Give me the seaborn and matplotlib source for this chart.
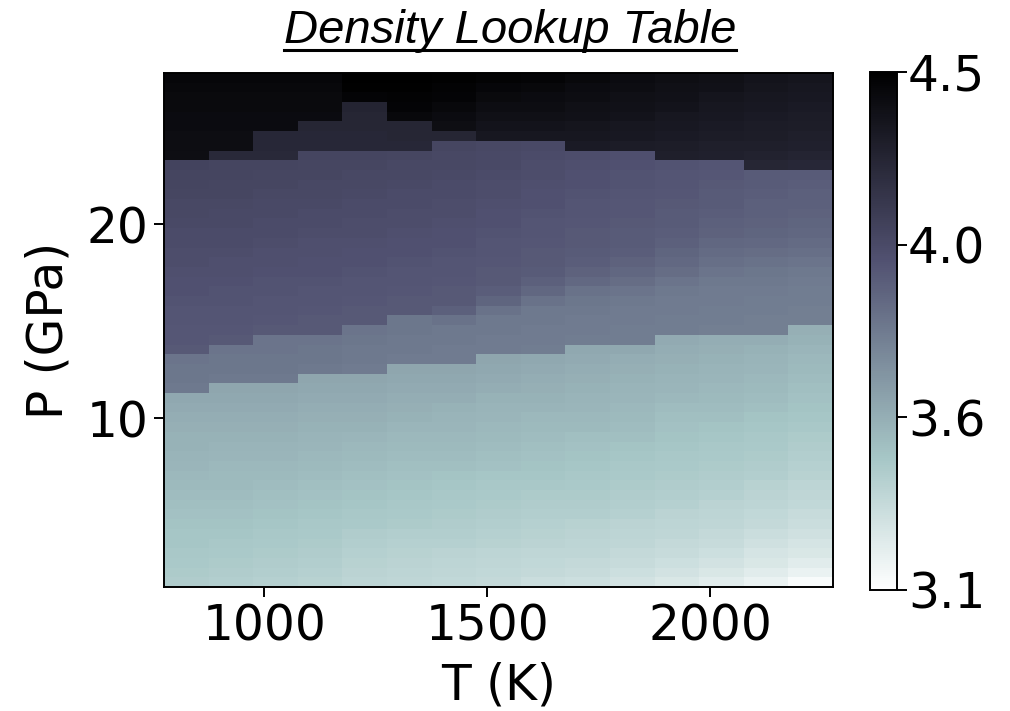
import numpy as np
import pandas as pd
import matplotlib
matplotlib.use("Agg")
import matplotlib.pyplot as plt
import seaborn as sns
from matplotlib.lines import Line2D
from matplotlib import font_manager

# ---------------- data ----------------
# Temperature cell centres (K), 100 K wide cells spanning 775 .. 2275 K
T_centers = [825, 925, 1025, 1125, 1225, 1325, 1425, 1525,
             1625, 1725, 1825, 1925, 2025, 2125, 2225]
T_lo, T_step = 775, 100
# Pressure cells are 0.5 GPa tall, spanning 1.3 .. 27.8 GPa (53 rows, bottom -> top)
P_lo, P_hi, P_step = 1.3, 27.8, 0.5
P_centers = [round(P_lo + P_step / 2 + P_step * i, 2) for i in range(53)]

# density (g/cm^3) per temperature column, from P = 1.55 GPa (first) to 27.55 GPa (last)
rho_T825 = [3.43, 3.44, 3.45, 3.46, 3.47, 3.47, 3.48, 3.49, 3.50, 3.51, 3.52, 3.53, 3.54, 3.55, 3.56, 3.56, 3.57, 3.58, 3.59, 3.60,
            3.81, 3.82, 3.82, 3.83,
            3.95, 3.96, 3.96, 3.97, 3.97, 3.98, 3.99, 3.99, 4.00, 4.01, 4.01, 4.02, 4.02, 4.03, 4.04, 4.04, 4.05, 4.06, 4.06, 4.07,
            4.39, 4.40, 4.40, 4.41, 4.41, 4.42, 4.42, 4.43, 4.44]
rho_T925 = [3.42, 3.43, 3.44, 3.45, 3.46, 3.47, 3.48, 3.49, 3.50, 3.51, 3.52, 3.52, 3.53, 3.54, 3.55, 3.56, 3.57, 3.58, 3.59, 3.60, 3.61,
            3.81, 3.82, 3.82, 3.83,
            3.95, 3.96, 3.97, 3.97, 3.98, 3.98, 3.99, 4.00, 4.00, 4.01, 4.02, 4.02, 4.03, 4.03, 4.04, 4.05, 4.05, 4.06, 4.06,
            4.23,
            4.40, 4.40, 4.41, 4.41, 4.42, 4.42, 4.43, 4.44]
rho_T1025 = [3.41, 3.42, 3.43, 3.44, 3.45, 3.46, 3.47, 3.48, 3.49, 3.50, 3.51, 3.52, 3.53, 3.54, 3.55, 3.56, 3.57, 3.58, 3.59, 3.60, 3.61,
             3.81, 3.82, 3.82, 3.83, 3.83,
             3.95, 3.96, 3.97, 3.97, 3.98, 3.98, 3.99, 4.00, 4.00, 4.01, 4.02, 4.02, 4.03, 4.03, 4.04, 4.05, 4.05, 4.06,
             4.23, 4.24, 4.24,
             4.41, 4.41, 4.42, 4.42, 4.43, 4.44]
rho_T1125 = [3.40, 3.41, 3.42, 3.43, 3.44, 3.45, 3.46, 3.47, 3.48, 3.49, 3.50, 3.51, 3.52, 3.53, 3.54, 3.55, 3.56, 3.57, 3.58, 3.59, 3.60, 3.61,
             3.81, 3.82, 3.82, 3.83,
             3.95, 3.95, 3.96, 3.97, 3.97, 3.98, 3.99, 3.99, 4.00, 4.00, 4.01, 4.02, 4.02, 4.03, 4.04, 4.04, 4.05, 4.05, 4.06,
             4.24, 4.24, 4.25,
             4.41, 4.42, 4.42, 4.43, 4.44]
rho_T1225 = [3.38, 3.39, 3.40, 3.41, 3.42, 3.43, 3.45, 3.46, 3.47, 3.48, 3.49, 3.50, 3.51, 3.52, 3.53, 3.54, 3.56, 3.57, 3.58, 3.59, 3.60, 3.61,
             3.80, 3.81, 3.81, 3.82, 3.83,
             3.95, 3.95, 3.96, 3.97, 3.97, 3.98, 3.99, 3.99, 4.00, 4.01, 4.01, 4.02, 4.02, 4.03, 4.04, 4.04, 4.05, 4.06,
             4.24, 4.24, 4.25, 4.25, 4.26,
             4.45, 4.47, 4.48]
rho_T1325 = [3.37, 3.38, 3.39, 3.40, 3.41, 3.42, 3.44, 3.45, 3.46, 3.47, 3.48, 3.49, 3.50, 3.51, 3.52, 3.53, 3.54, 3.56, 3.57, 3.58, 3.59, 3.60, 3.61,
             3.80, 3.81, 3.81, 3.82, 3.82,
             3.95, 3.95, 3.96, 3.97, 3.97, 3.98, 3.99, 3.99, 4.00, 4.01, 4.01, 4.02, 4.02, 4.03, 4.04, 4.04, 4.05,
             4.24, 4.25, 4.25,
             4.43, 4.45, 4.46, 4.47, 4.48]
rho_T1425 = [3.36, 3.37, 3.38, 3.39, 3.41, 3.42, 3.43, 3.44, 3.45, 3.46, 3.47, 3.48, 3.50, 3.51, 3.52, 3.53, 3.54, 3.55, 3.56, 3.58, 3.59, 3.60, 3.61,
             3.80, 3.80, 3.81, 3.81, 3.84,
             3.92, 3.95, 3.95, 3.96, 3.97, 3.97, 3.98, 3.99, 3.99, 4.00, 4.01, 4.01, 4.02, 4.02, 4.03, 4.04, 4.04, 4.05,
             4.25,
             4.39, 4.41, 4.43, 4.45, 4.46, 4.47]
rho_T1525 = [3.35, 3.36, 3.37, 3.38, 3.40, 3.41, 3.42, 3.43, 3.44, 3.45, 3.46, 3.47, 3.49, 3.50, 3.51, 3.52, 3.53, 3.54, 3.55, 3.56, 3.58, 3.59, 3.60, 3.61,
             3.80, 3.80, 3.81, 3.81, 3.84,
             3.90, 3.93, 3.95, 3.95, 3.96, 3.97, 3.97, 3.98, 3.99, 3.99, 4.00, 4.01, 4.01, 4.02, 4.03, 4.03, 4.04,
             4.34, 4.36, 4.38, 4.40, 4.42, 4.44, 4.46]
rho_T1625 = [3.33, 3.35, 3.36, 3.37, 3.39, 3.40, 3.41, 3.42, 3.43, 3.44, 3.46, 3.47, 3.48, 3.49, 3.50, 3.51, 3.52, 3.53, 3.55, 3.56, 3.57, 3.58, 3.59, 3.60,
             3.79, 3.80, 3.80, 3.81, 3.81, 3.84,
             3.89, 3.92, 3.94, 3.95, 3.95, 3.96, 3.97, 3.97, 3.98, 3.99, 3.99, 4.00, 4.01, 4.01, 4.02, 4.03,
             4.34, 4.36, 4.38, 4.40, 4.41, 4.43, 4.45]
rho_T1725 = [3.32, 3.34, 3.35, 3.37, 3.38, 3.39, 3.40, 3.42, 3.43, 3.44, 3.45, 3.46, 3.47, 3.48, 3.49, 3.50, 3.52, 3.53, 3.54, 3.55, 3.56, 3.57, 3.58, 3.59, 3.60,
             3.79, 3.80, 3.80, 3.81, 3.82, 3.84,
             3.88, 3.91, 3.93, 3.94, 3.95, 3.95, 3.96, 3.97, 3.97, 3.98, 3.99, 3.99, 4.00, 4.01,
             4.32, 4.34, 4.35, 4.37, 4.38, 4.40, 4.41, 4.43]
rho_T1825 = [3.30, 3.32, 3.34, 3.35, 3.37, 3.38, 3.39, 3.41, 3.42, 3.43, 3.44, 3.45, 3.46, 3.47, 3.48, 3.50, 3.51, 3.52, 3.53, 3.54, 3.55, 3.56, 3.57, 3.58, 3.60,
             3.79, 3.79, 3.80, 3.80, 3.81, 3.83,
             3.86, 3.89, 3.91, 3.93, 3.94, 3.94, 3.95, 3.96, 3.96, 3.97, 3.98, 3.98, 3.99, 4.00,
             4.31, 4.33, 4.34, 4.36, 4.37, 4.38, 4.40, 4.41]
rho_T1925 = [3.27, 3.30, 3.32, 3.34, 3.35, 3.37, 3.38, 3.39, 3.41, 3.42, 3.43, 3.44, 3.45, 3.46, 3.47, 3.48, 3.49, 3.50, 3.51, 3.53, 3.54, 3.55, 3.56, 3.57, 3.58, 3.59,
             3.79, 3.79, 3.80, 3.80, 3.81, 3.83,
             3.86, 3.88, 3.90, 3.92, 3.93, 3.94, 3.94, 3.95, 3.96, 3.97, 3.97, 3.98,
             4.29, 4.30, 4.32, 4.33, 4.34, 4.36, 4.37, 4.38, 4.39]
rho_T2025 = [3.24, 3.27, 3.30, 3.32, 3.34, 3.35, 3.37, 3.38, 3.39, 3.41, 3.42, 3.43, 3.44, 3.45, 3.46, 3.47, 3.48, 3.50, 3.51, 3.52, 3.53, 3.54, 3.55, 3.56, 3.57, 3.58,
             3.78, 3.79, 3.79, 3.80, 3.80, 3.81, 3.83,
             3.85, 3.87, 3.89, 3.91, 3.92, 3.93, 3.94, 3.94, 3.95, 3.96, 3.97,
             4.28, 4.29, 4.31, 4.32, 4.33, 4.34, 4.35, 4.37, 4.38]
rho_T2125 = [3.20, 3.24, 3.27, 3.29, 3.31, 3.33, 3.35, 3.36, 3.38, 3.39, 3.40, 3.42, 3.43, 3.44, 3.45, 3.46, 3.47, 3.48, 3.50, 3.51, 3.52, 3.53, 3.54, 3.55, 3.56, 3.58,
             3.78, 3.78, 3.79, 3.79, 3.80, 3.81, 3.82,
             3.84, 3.86, 3.88, 3.90, 3.91, 3.92, 3.92, 3.93, 3.94, 3.94,
             4.25, 4.27, 4.29, 4.30, 4.31, 4.32, 4.33, 4.34, 4.35, 4.36]
rho_T2225 = [3.15, 3.20, 3.24, 3.27, 3.29, 3.31, 3.33, 3.34, 3.36, 3.37, 3.38, 3.40, 3.41, 3.42, 3.43, 3.44, 3.46, 3.47, 3.48, 3.49, 3.50, 3.51, 3.52, 3.53, 3.54, 3.56, 3.57,
             3.78, 3.78, 3.79, 3.79, 3.80, 3.81, 3.83,
             3.85, 3.87, 3.89, 3.90, 3.91, 3.92, 3.92, 3.93, 3.94,
             4.24, 4.26, 4.28, 4.29, 4.30, 4.31, 4.32, 4.33, 4.34, 4.35]

x_ticks = [1000, 1500, 2000]
y_ticks = [10, 20]
vmin, vmax = 3.12, 4.48
title_text = "Density Lookup Table"
x_label = "T (K)"
y_label = "P (GPa)"

# ---------------- build table ----------------
columns = [rho_T825, rho_T925, rho_T1025, rho_T1125, rho_T1225, rho_T1325, rho_T1425,
           rho_T1525, rho_T1625, rho_T1725, rho_T1825, rho_T1925, rho_T2025, rho_T2125,
           rho_T2225]
table = pd.DataFrame(np.array(columns).T, index=P_centers, columns=T_centers)
table = table.iloc[::-1]  # highest pressure at the top row

# ---------------- figure ----------------
W, H = 1010, 711
fig = plt.figure(figsize=(W / 100, H / 100), dpi=100)
ax = fig.add_axes([164 / W, (H - 587) / H, (833 - 164) / W, (587 - 73) / H])
cax = fig.add_axes([870 / W, (H - 590) / H, 27 / W, (590 - 72) / H])

sns.heatmap(table, cmap="bone_r", vmin=vmin, vmax=vmax, ax=ax, cbar_ax=cax,
            xticklabels=False, yticklabels=False, rasterized=True)

FS = 35
ax.set_xticks([(t - T_lo) / T_step for t in x_ticks])
ax.set_xticklabels([str(t) for t in x_ticks])
ax.set_yticks([(P_hi - p) / P_step for p in y_ticks])
ax.set_yticklabels([str(p) for p in y_ticks])
ax.tick_params(axis="both", labelsize=FS, length=7, width=1.4, direction="out",
               color="black", pad=4)
ax.tick_params(axis="y", rotation=0)
ax.tick_params(axis="x", rotation=0)
for s in ax.spines.values():
    s.set_visible(True)
    s.set_linewidth(1.4)
    s.set_color("black")
ax.set_xlabel(x_label, fontsize=FS, labelpad=8)
ax.set_ylabel(y_label, fontsize=FS, labelpad=10)

cbar = ax.collections[0].colorbar
ticks = np.linspace(vmin, vmax, 4)
cbar.set_ticks(ticks)
cbar.set_ticklabels([f"{v:.1f}" for v in ticks])
cbar.outline.set_visible(True)
cbar.outline.set_linewidth(1.4)
cbar.outline.set_edgecolor("black")
cax.tick_params(labelsize=FS, length=7, width=1.4, pad=1)

# title (italic, underlined)
installed = {f.name for f in font_manager.fontManager.ttflist}
if "Liberation Sans Narrow" in installed:
    tfam, tsize = ["Liberation Sans Narrow", "DejaVu Sans"], 40
else:
    tfam, tsize = ["Liberation Sans", "DejaVu Sans"], 34
title = fig.text(510 / W, 1 - 43 / H, title_text, fontsize=tsize, style="italic",
                 family=tfam, ha="center", va="baseline")
fig.canvas.draw()
bb = title.get_window_extent()
uy = 1 - 50 / H
fig.add_artist(Line2D([bb.x0 / W, bb.x1 / W], [uy, uy], transform=fig.transFigure,
                      color="black", linewidth=2.2))

fig.savefig("out.png", dpi=100)
